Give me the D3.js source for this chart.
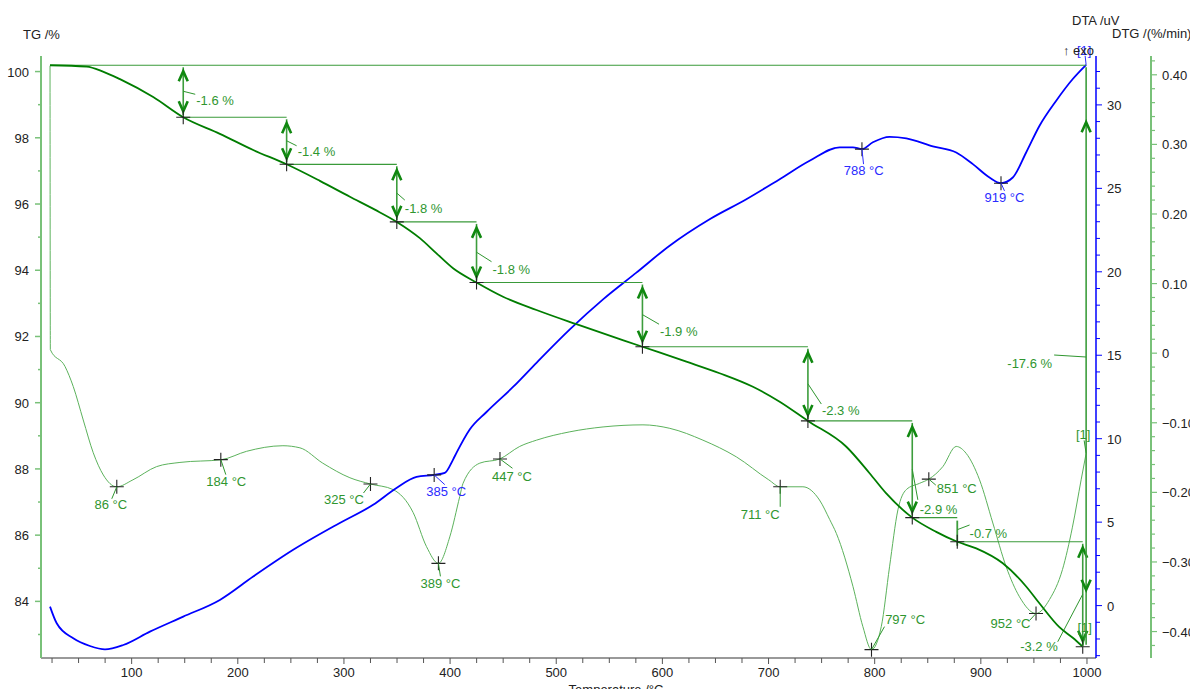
<!DOCTYPE html>
<html>
<head>
<meta charset="utf-8">
<script src="https://cdn.jsdelivr.net/npm/d3@7"></script>
<style>
  body { margin: 0; background: #fff; }
  svg { font-family: "Liberation Sans", Arial, sans-serif; font-size: 13px; }
</style>
</head>
<body>
<div id="chart"></div>
<script>
// ---- data ----
const tgTemps = [23.1, 57.6, 73, 89, 120.3, 148.6, 183.1, 214.5, 246, 277.3, 305.6, 329.1, 349.8, 371.5, 387.2, 402.8, 424.9, 449.9, 481.4, 519, 581.2, 622.6, 653.9, 685.3, 710.5, 737.1, 773.3, 795.2, 810.9, 835.4, 858, 877.8, 895.7, 920.7, 942.7, 955, 974, 986.6, 996];
const tgMass = [100.19, 100.15, 100.0, 99.77, 99.23, 98.62, 98.12, 97.63, 97.2, 96.7, 96.22, 95.83, 95.46, 94.97, 94.51, 94.06, 93.63, 93.2, 92.8, 92.37, 91.69, 91.24, 90.89, 90.48, 90.03, 89.45, 88.67, 87.87, 87.26, 86.53, 86.1, 85.8, 85.6, 85.15, 84.45, 83.95, 83.22, 82.9, 82.63];

const dtaTemps = [23.1, 29.4, 45, 60.7, 74.9, 92.1, 117.2, 148.6, 183.1, 214.5, 252.2, 296.1, 327.5, 349.5, 368.4, 385, 395, 402.8, 406, 418.5, 434.3, 459.3, 481.4, 512.8, 544.1, 575.5, 606.5, 644.5, 679.1, 710.5, 738.7, 767, 779.5, 788, 798.3, 814, 829.8, 854.8, 876.8, 892.5, 908.2, 919, 930.1, 942.7, 955.3, 971, 986.6, 999.2];
const dtaValues = [-0.06, -1.06, -1.96, -2.42, -2.62, -2.36, -1.56, -0.66, 0.34, 1.74, 3.34, 4.95, 6.04, 7.05, 7.71, 7.83, 7.95, 8.75, 9.15, 10.55, 11.6, 13.1, 14.55, 16.55, 18.35, 19.95, 21.55, 23.15, 24.35, 25.55, 26.65, 27.46, 27.46, 27.35, 27.76, 28.09, 28.0, 27.52, 27.15, 26.45, 25.65, 25.31, 25.65, 27.15, 28.75, 30.25, 31.55, 32.4];

const dtgTemps = [23.1, 23.4, 37.2, 45, 54.4, 63.8, 73.3, 85.9, 101.2, 123.5, 145.5, 184.7, 208.3, 242.5, 258.5, 280, 305.6, 325, 346.3, 365.2, 377.8, 389, 399.7, 409.1, 412.2, 428, 446.8, 465.6, 481.4, 512.8, 544.1, 581.7, 607, 638.2, 669.7, 700.2, 711, 732.4, 748, 757.6, 763.9, 779.5, 788.9, 797, 806.2, 814, 821.9, 829.8, 842.3, 851, 864.2, 876.8, 886.2, 898.8, 911.3, 923.9, 936.4, 952, 964.7, 976.9, 986.3, 994.5, 999.2];
const dtgValues = [0.413, 0.005, -0.019, -0.048, -0.096, -0.143, -0.175, -0.192, -0.182, -0.163, -0.157, -0.153, -0.141, -0.133, -0.136, -0.158, -0.179, -0.188, -0.196, -0.229, -0.278, -0.302, -0.264, -0.206, -0.187, -0.158, -0.152, -0.134, -0.125, -0.113, -0.106, -0.103, -0.108, -0.125, -0.149, -0.182, -0.192, -0.192, -0.211, -0.239, -0.259, -0.335, -0.393, -0.426, -0.393, -0.307, -0.225, -0.196, -0.187, -0.181, -0.163, -0.134, -0.144, -0.182, -0.244, -0.307, -0.350, -0.374, -0.354, -0.311, -0.250, -0.182, -0.144];

// TG mass-loss steps
const stepStartTemp = 23.1;
const stepStartLevel = 100.19;
const stepTemps = [148.6, 246, 349.8, 424.9, 581.2, 737.1, 835.4, 877.8, 996];
const stepLevels = [98.62, 97.2, 95.46, 93.63, 91.69, 89.45, 86.53, 85.8, 82.63];
const stepLabels = ["-1.6 %", "-1.4 %", "-1.8 %", "-1.8 %", "-1.9 %", "-2.3 %", "-2.9 %", "-0.7 %", "-3.2 %"];
const totalTemp = 999.2;
const totalLabel = "-17.6 %";

// peaks
const dtgPeakTemps = [86, 184, 325, 389, 447, 711, 797, 851, 952];
const dtgPeakValues = [-0.192, -0.153, -0.188, -0.302, -0.152, -0.192, -0.426, -0.181, -0.374];
const dtaPeakTemps = [385, 788, 919];
const dtaPeakValues = [7.83, 27.35, 25.31];

// ticks
const tempTicks = d3.range(100, 1001, 100);
const tempMinor = d3.range(25, 1001, 25);
const tgTicks = [84, 86, 88, 90, 92, 94, 96, 98, 100];
const tgMinor = d3.range(83, 101, 1);
const dtaTicks = [0, 5, 10, 15, 20, 25, 30];
const dtaMinor = d3.range(-3, 33, 1);
const dtgTicks = [-0.4, -0.3, -0.2, -0.1, 0, 0.1, 0.2, 0.3, 0.4];
const dtgMinor = d3.range(-21, 22, 1).map(d => d * 0.02);

// ---- layout ----
const W = 1190, H = 689;
const plotTop = 56, plotBottom = 658, plotLeft = 41, plotRight = 1096, dtgAxisX = 1151;

const cDark = "#007d00", cText = "#2f962f", cThin = "#5cb25c", cAxisG = "#79c179",
      cRef = "#3a9a3a", cArrow = "#108810", cBlue = "#0000ff";

const svg = d3.select("#chart").append("svg").attr("width", W).attr("height", H);

const x = d3.scaleLinear().domain([14.6, 1008.5]).range([plotLeft, plotRight]);
const yTG = d3.scaleLinear().domain([82.29, 100.47]).range([plotBottom, plotTop]);
const yDTA = d3.scaleLinear().domain([-3.14, 32.93]).range([plotBottom, plotTop]);
const yDTG = d3.scaleLinear().domain([-0.438, 0.427]).range([plotBottom, plotTop]);

// ---- axes ----
// bottom temperature axis
svg.append("line").attr("x1", plotLeft).attr("x2", plotRight).attr("y1", plotBottom).attr("y2", plotBottom)
  .attr("stroke", "#777").attr("stroke-width", 1.5);
svg.append("g").selectAll("line").data(tempMinor).join("line")
  .attr("x1", d => x(d)).attr("x2", d => x(d))
  .attr("y1", plotBottom).attr("y2", d => d % 100 === 0 ? plotBottom + 6 : plotBottom + 5)
  .attr("stroke", "#555").attr("stroke-width", 1);
svg.append("g").selectAll("text").data(tempTicks).join("text")
  .attr("x", d => x(d)).attr("y", 677).attr("text-anchor", "middle").attr("fill", "#222")
  .text(d => d);
svg.append("text").attr("x", 616).attr("y", 694).attr("text-anchor", "middle").attr("fill", "#222")
  .text("Temperature /°C");

// left TG axis
svg.append("line").attr("x1", plotLeft).attr("x2", plotLeft).attr("y1", plotTop).attr("y2", plotBottom)
  .attr("stroke", cAxisG).attr("stroke-width", 2);
svg.append("g").selectAll("line").data(tgMinor).join("line")
  .attr("x1", d => tgTicks.includes(d) ? plotLeft - 6 : plotLeft - 3).attr("x2", plotLeft)
  .attr("y1", d => yTG(d)).attr("y2", d => yTG(d))
  .attr("stroke", cAxisG).attr("stroke-width", 1.5);
svg.append("g").selectAll("text").data(tgTicks).join("text")
  .attr("x", 29).attr("y", d => yTG(d) + 5).attr("text-anchor", "end").attr("fill", "#222")
  .text(d => d);
svg.append("text").attr("x", 23).attr("y", 39).attr("fill", "#222").text("TG /%");

// DTA axis (blue)
svg.append("line").attr("x1", plotRight).attr("x2", plotRight).attr("y1", plotTop).attr("y2", plotBottom)
  .attr("stroke", cBlue).attr("stroke-width", 1.5);
svg.append("g").selectAll("line").data(dtaMinor).join("line")
  .attr("x1", plotRight).attr("x2", d => dtaTicks.includes(d) ? plotRight + 6 : plotRight + 4)
  .attr("y1", d => yDTA(d)).attr("y2", d => yDTA(d))
  .attr("stroke", cBlue).attr("stroke-width", 1);
svg.append("g").selectAll("text").data(dtaTicks).join("text")
  .attr("x", 1107).attr("y", d => yDTA(d) + 5).attr("fill", "#222")
  .text(d => d);
svg.append("text").attr("x", 1072).attr("y", 25).attr("fill", "#222").text("DTA /uV");

// DTG axis (green)
svg.append("line").attr("x1", dtgAxisX).attr("x2", dtgAxisX).attr("y1", plotTop).attr("y2", plotBottom)
  .attr("stroke", cAxisG).attr("stroke-width", 2);
svg.append("g").selectAll("line").data(dtgMinor).join("line")
  .attr("x1", dtgAxisX)
  .attr("x2", (d, i) => (i - 21) % 5 === 0 ? dtgAxisX + 6 : dtgAxisX + 4)
  .attr("y1", d => yDTG(d)).attr("y2", d => yDTG(d))
  .attr("stroke", cAxisG).attr("stroke-width", 1.2);
svg.append("g").selectAll("text").data(dtgTicks).join("text")
  .attr("x", 1162).attr("y", d => yDTG(d) + 5).attr("fill", "#222")
  .text(d => d === 0 ? "0" : d3.format(".2f")(d));
svg.append("text").attr("x", 1112).attr("y", 38).attr("fill", "#222").text("DTG /(%/min)");

// ---- curves ----
const mk = (xs, ys, yScale) => d3.line().curve(d3.curveMonotoneX)
  .x((d, i) => x(xs[i])).y((d, i) => yScale(ys[i]))(xs);

svg.append("path").attr("d", mk(dtgTemps, dtgValues, yDTG))
  .attr("fill", "none").attr("stroke", cThin).attr("stroke-width", 1);
svg.append("path").attr("d", mk(dtaTemps, dtaValues, yDTA))
  .attr("fill", "none").attr("stroke", cBlue).attr("stroke-width", 1.8);

// ---- TG step annotations ----
const refs = svg.append("g");
const levels = [stepStartLevel, ...stepLevels];
// full-width reference line at the start level
refs.append("line").attr("x1", x(stepStartTemp)).attr("x2", x(totalTemp))
  .attr("y1", yTG(stepStartLevel)).attr("y2", yTG(stepStartLevel))
  .attr("stroke", cRef).attr("stroke-width", 1.2);
// horizontal lines from each step marker to the next step
stepTemps.slice(0, -1).forEach((t, i) => {
  refs.append("line").attr("x1", x(t)).attr("x2", x(stepTemps[i + 1]))
    .attr("y1", yTG(stepLevels[i])).attr("y2", yTG(stepLevels[i]))
    .attr("stroke", cRef).attr("stroke-width", 1.2);
});

function arrow(g, ax, y0, y1, inset) {
  g.append("line").attr("x1", ax).attr("x2", ax).attr("y1", y0 + 2).attr("y2", y1 - 2)
    .attr("stroke", "#3d9d3d").attr("stroke-width", 1.6);
  const up = y0 + inset, dn = y1 - inset;
  g.append("path").attr("d", `M${ax - 4.5},${up + 10}L${ax},${up}L${ax + 4.5},${up + 10}`)
    .attr("fill", "none").attr("stroke", cArrow).attr("stroke-width", 2.6);
  g.append("path").attr("d", `M${ax - 4.5},${dn - 10}L${ax},${dn}L${ax + 4.5},${dn - 10}`)
    .attr("fill", "none").attr("stroke", cArrow).attr("stroke-width", 2.6);
}

// leader end / text position relative to arrow middle
const stepLabelPos = [
  [12, 3, 13, 13.5, "start"], [10, 5, 11, 15.5, "start"], [8, 7, 8, 20, "start"],
  [15, 9.5, 16, 21.5, "start"], [16.6, 9.6, 17.5, 21.5, "start"], [13.4, 20.2, 14, 31, "start"],
  [5.6, 30.6, 7.5, 44.6, "start"], [12.3, -4.7, 12.3, 8.3, "start"], [-25, 47.5, -25, 57, "end"]
];

const ann = svg.append("g");
stepTemps.forEach((t, i) => {
  const ax = x(t), y0 = yTG(levels[i]), y1 = yTG(levels[i + 1]);
  if (y1 - y0 > 30) arrow(ann, ax, y0, y1, 6);
  else ann.append("line").attr("x1", ax).attr("x2", ax).attr("y1", y0 + 3).attr("y2", y1 + 4)
    .attr("stroke", "#3d9d3d").attr("stroke-width", 1.8);
  const mid = (y0 + y1) / 2, p = stepLabelPos[i];
  ann.append("line").attr("x1", ax).attr("y1", mid).attr("x2", ax + p[0]).attr("y2", mid + p[1])
    .attr("stroke", cText).attr("stroke-width", 1);
  ann.append("text").attr("x", ax + p[2]).attr("y", mid + p[3]).attr("text-anchor", p[4])
    .attr("fill", cText).text(stepLabels[i]);
});

// total mass loss arrow
{
  const ax = x(totalTemp), y0 = yTG(stepStartLevel), y1 = yTG(stepLevels[stepLevels.length - 1]);
  arrow(ann, ax, y0, y1, 57);
  const mid = (y0 + y1) / 2;
  ann.append("line").attr("x1", ax).attr("y1", mid + 1).attr("x2", ax - 32).attr("y2", mid - 1)
    .attr("stroke", cText).attr("stroke-width", 1);
  ann.append("text").attr("x", ax - 34).attr("y", mid + 12).attr("text-anchor", "end")
    .attr("fill", cText).text(totalLabel);
}

// TG curve on top
svg.append("path").attr("d", mk(tgTemps, tgMass, yTG))
  .attr("fill", "none").attr("stroke", cDark).attr("stroke-width", 1.8);

// ---- markers ----
function cross(g, px, py) {
  g.append("path").attr("d", `M${px - 7},${py}H${px + 7}M${px},${py - 7}V${py + 7}`)
    .attr("stroke", "#222").attr("stroke-width", 1.1).attr("fill", "none");
}
const marks = svg.append("g");
stepTemps.forEach((t, i) => cross(marks, x(t), yTG(stepLevels[i])));

// peak label layout: leader end dx,dy then text centre dx, baseline dy
const dtgLabelPos = [
  [-5, 12, -6, 22], [5, 15, 5.5, 26.7], [-7, 9, -26.5, 19.7], [2, 13, 2, 24.7], [12.5, 9.3, 12, 22],
  [0, 20, -20, 32], [13, -23, 33.6, -26], [7, 6, 28, 14.3], [-6.5, 7, -25.5, 14.7]
];
const dtaLabelPos = [[10.6, 9.7, 12, 21.4], [1.6, 15, 1.8, 26], [3.5, 7.7, 3.5, 18.7]];

function peaks(temps, vals, yScale, pos, color) {
  temps.forEach((t, i) => {
    const px = x(t), py = yScale(vals[i]), p = pos[i];
    cross(marks, px, py);
    marks.append("line").attr("x1", px).attr("y1", py).attr("x2", px + p[0]).attr("y2", py + p[1])
      .attr("stroke", color).attr("stroke-width", 1);
    marks.append("text").attr("x", px + p[2]).attr("y", py + p[3]).attr("text-anchor", "middle")
      .attr("fill", color).text(`${t} °C`);
  });
}
peaks(dtgPeakTemps, dtgPeakValues, yDTG, dtgLabelPos, cText);
peaks(dtaPeakTemps, dtaPeakValues, yDTA, dtaLabelPos, "#2b2bff");

// end labels [1] and exo marker
const endG = svg.append("g");
const dtgEnd = [x(dtgTemps[dtgTemps.length - 1]), yDTG(dtgValues[dtgValues.length - 1])];
endG.append("line").attr("x1", dtgEnd[0]).attr("y1", dtgEnd[1]).attr("x2", dtgEnd[0] - 2).attr("y2", dtgEnd[1] - 13)
  .attr("stroke", cText);
endG.append("text").attr("x", dtgEnd[0] - 3).attr("y", dtgEnd[1] - 14).attr("text-anchor", "middle")
  .attr("fill", cText).text("[1]");
const tgEnd = [x(tgTemps[tgTemps.length - 1]), yTG(tgMass[tgMass.length - 1])];
endG.append("line").attr("x1", tgEnd[0]).attr("y1", tgEnd[1]).attr("x2", tgEnd[0] + 3).attr("y2", tgEnd[1] - 14)
  .attr("stroke", cText);
endG.append("text").attr("x", tgEnd[0] + 2).attr("y", tgEnd[1] - 15).attr("text-anchor", "middle")
  .attr("fill", cText).text("[1]");
const dtaEnd = [x(dtaTemps[dtaTemps.length - 1]), yDTA(dtaValues[dtaValues.length - 1])];
endG.append("line").attr("x1", dtaEnd[0]).attr("y1", dtaEnd[1]).attr("x2", dtaEnd[0] - 1).attr("y2", dtaEnd[1] - 9)
  .attr("stroke", "#2b2bff");
endG.append("text").attr("x", dtaEnd[0] - 2).attr("y", 55).attr("text-anchor", "middle")
  .attr("fill", "#2b2bff").text("[1]");
endG.append("text").attr("x", 1063).attr("y", 55).attr("fill", "#222").text("↑ exo");
</script>
</body>
</html>
